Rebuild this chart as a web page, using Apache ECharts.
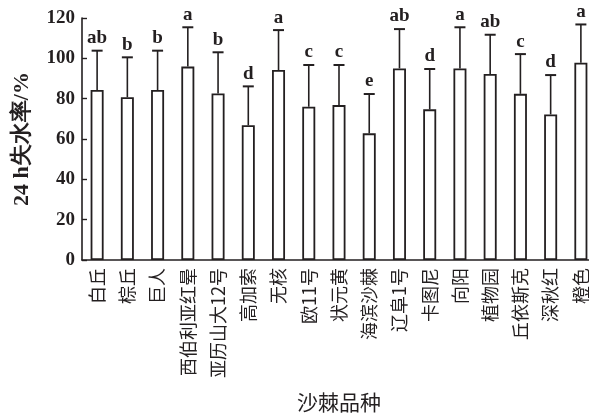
<!DOCTYPE html>
<html>
<head>
<meta charset="utf-8">
<script src="https://cdn.jsdelivr.net/npm/echarts@6/dist/echarts.min.js"></script>
<style>html,body{margin:0;padding:0;background:#fff}#c{width:589px;height:414px}</style>
</head>
<body>
<div id="c"></div>
<script>
var categories = ['白丘','棕丘','巨人','西伯利亚红晕','亚历山大12号','高加索','无核','欧11号','状元黄','海滨沙棘','辽阜1号','卡图尼','向阳','植物园','丘依斯克','深秋红','橙色'];
var means = [84.3, 80.7, 84.3, 95.9, 82.6, 66.8, 94.2, 76.0, 76.8, 62.8, 95.0, 74.7, 95.0, 92.2, 82.4, 72.2, 97.8];
var errUpper = [103.8, 100.5, 103.8, 115.4, 103.0, 86.1, 114.0, 96.7, 96.7, 82.3, 114.5, 94.7, 115.4, 111.7, 102.1, 91.7, 116.8];
var letters = ['ab','b','b','a','b','d','a','c','c','e','ab','d','a','ab','c','d','a'];
var yTicks = [0, 20, 40, 60, 80, 100, 120];

var ink = '#231f20';
var serif = '"Liberation Serif","DejaVu Serif",serif';
var cjk = '"Noto Sans CJK SC","Liberation Serif",serif';

var chart = echarts.init(document.getElementById('c'));
var errData = categories.map(function (c, i) { return [i, means[i], errUpper[i], letters[i]]; });

chart.setOption({
  animation: false,
  grid: { left: 82, right: -7, top: 18, bottom: 154, containLabel: false, outerBoundsMode: 'none' },
  xAxis: {
    type: 'category',
    data: categories,
    name: '沙棘品种',
    nameLocation: 'middle',
    nameGap: 132,
    nameTextStyle: { fontFamily: cjk, fontSize: 21, color: ink },
    axisLine: { lineStyle: { color: ink, width: 1.6 } },
    axisTick: { show: true, inside: true, length: 5, alignWithLabel: true, lineStyle: { color: ink, width: 1.2 } },
    axisLabel: { rotate: 90, interval: 0, margin: 8, fontFamily: cjk, fontSize: 18, color: ink }
  },
  yAxis: {
    type: 'value',
    min: yTicks[0],
    max: yTicks[yTicks.length - 1],
    interval: 20,
    name: '24 h失水率/%',
    nameLocation: 'middle',
    nameGap: 49,
    nameTextStyle: { fontFamily: serif, fontSize: 22, fontWeight: 'bold', color: ink },
    axisLine: { show: true, lineStyle: { color: ink, width: 1.6 } },
    axisTick: { show: true, inside: true, length: 5, lineStyle: { color: ink, width: 1.4 } },
    splitLine: { show: false },
    axisLabel: { margin: 7, fontFamily: serif, fontSize: 19, fontWeight: 'bold', color: ink }
  },
  series: [
    {
      type: 'bar',
      data: means,
      barWidth: 13,
      itemStyle: { color: '#fff', borderColor: ink, borderWidth: 1.8 },
      z: 2
    },
    {
      type: 'custom',
      data: errData,
      z: 3,
      renderItem: function (params, api) {
        var x = api.value(0);
        var lo = api.coord([x, api.value(1)]);
        var hi = api.coord([x, api.value(2)]);
        var cap = 5.5;
        return {
          type: 'group',
          children: [
            { type: 'line', shape: { x1: lo[0], y1: lo[1], x2: hi[0], y2: hi[1] }, style: { stroke: ink, lineWidth: 1.6 } },
            { type: 'line', shape: { x1: hi[0] - cap, y1: hi[1], x2: hi[0] + cap, y2: hi[1] }, style: { stroke: ink, lineWidth: 2 } },
            { type: 'text', x: hi[0], y: hi[1] - 3, style: { text: api.value(3), textAlign: 'center', textVerticalAlign: 'bottom', font: 'bold 19px ' + serif, fill: ink } }
          ]
        };
      }
    }
  ]
});
</script>
</body>
</html>
